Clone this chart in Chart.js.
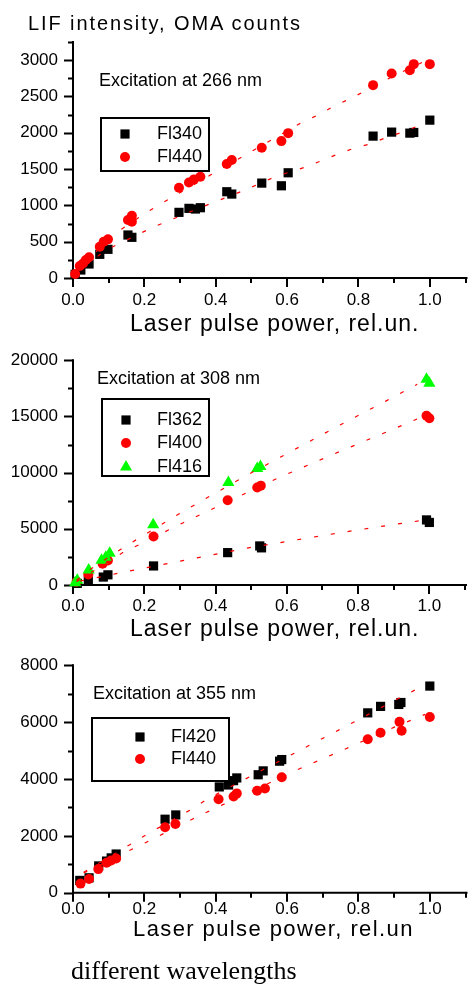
<!DOCTYPE html>
<html>
<head>
<meta charset="utf-8">
<script src="https://cdn.jsdelivr.net/npm/chart.js@4/dist/chart.umd.min.js"></script>
<style>
  body { margin:0; background:#fff; width:472px; height:984px; position:relative; overflow:hidden;
         font-family: Arial, "Liberation Sans", sans-serif; }
  .wrap { position:absolute; left:0; width:472px; }
  .txt { position:absolute; white-space:nowrap; color:#000; line-height:1; }
</style>
</head>
<body>
<div class="wrap" style="top:0;height:335px"><canvas id="c1"></canvas></div>
<div class="wrap" style="top:335px;height:305px"><canvas id="c2"></canvas></div>
<div class="wrap" style="top:640px;height:300px"><canvas id="c3"></canvas></div>

<div class="txt" style="left:28px;top:13px;font-size:20px;letter-spacing:1.9px">LIF intensity, OMA counts</div>
<div class="txt" style="left:130px;top:312px;font-size:23px;letter-spacing:1px">Laser pulse power, rel.un.</div>
<div class="txt" style="left:130px;top:617px;font-size:23px;letter-spacing:1px">Laser pulse power, rel.un.</div>
<div class="txt" style="left:133px;top:918px;font-size:22px;letter-spacing:1.4px">Laser pulse power, rel.un</div>
<div class="txt" style="left:71px;top:958px;font-size:26px;font-family:'Liberation Serif','Times New Roman',serif">different wavelengths</div>

<script>
// tick labels
const xTicks = [0, 0.2, 0.4, 0.6, 0.8, 1.0];
const p1YTicks = [0, 500, 1000, 1500, 2000, 2500, 3000];
const p2YTicks = [0, 5000, 10000, 15000, 20000];
const p3YTicks = [0, 2000, 4000, 6000, 8000];

// panel 1 - excitation 266 nm
const p1Fl340X = [0.006, 0.022, 0.045, 0.075, 0.098, 0.154, 0.165, 0.297, 0.325, 0.343, 0.357, 0.431, 0.445, 0.529, 0.584, 0.603, 0.841, 0.893, 0.944, 0.955, 1.0];
const p1Fl340Y = [50, 110, 193, 326, 395, 592, 560, 904, 959, 950, 968, 1188, 1156, 1307, 1270, 1449, 1954, 2009, 1995, 2004, 2174];
const p1Fl440X = [0.006, 0.019, 0.028, 0.036, 0.045, 0.075, 0.086, 0.098, 0.154, 0.165, 0.165, 0.297, 0.325, 0.339, 0.357, 0.431, 0.445, 0.529, 0.584, 0.603, 0.841, 0.893, 0.944, 0.955, 1.0];
const p1Fl440Y = [55, 165, 200, 248, 285, 431, 500, 532, 798, 857, 775, 1243, 1316, 1358, 1394, 1569, 1625, 1793, 1885, 1995, 2656, 2817, 2862, 2945, 2945];
const p1Fit340X = [0.03, 0.093, 0.135, 0.221, 0.265, 0.394, 0.482, 0.566, 0.654, 0.742, 0.786, 0.831, 0.876, 0.918, 0.962];
const p1Fit340Y = [160, 385, 486, 692, 784, 1041, 1211, 1394, 1532, 1706, 1785, 1844, 1930, 2000, 2083];
const p1Fit440X = [0.03, 0.121, 0.206, 0.253, 0.385, 0.64, 0.686, 0.728, 0.774, 0.818, 0.862, 0.907, 0.992];
const p1Fit440Y = [200, 624, 904, 1041, 1417, 2138, 2243, 2358, 2463, 2573, 2688, 2803, 3000];

// panel 2 - excitation 308 nm
const p2Fl362X = [0.012, 0.043, 0.085, 0.098, 0.226, 0.434, 0.524, 0.529, 0.992, 1.0];
const p2Fl362Y = [141, 424, 706, 904, 1695, 2880, 3475, 3305, 5790, 5565];
const p2Fl400X = [0.010, 0.043, 0.083, 0.098, 0.226, 0.434, 0.517, 0.527, 0.992, 1.0];
const p2Fl400Y = [282, 932, 1893, 2175, 4322, 7543, 8672, 8841, 15056, 14831];
const p2Fl416X = [0.006, 0.012, 0.044, 0.080, 0.092, 0.103, 0.225, 0.436, 0.517, 0.526, 0.992, 1.0];
const p2Fl416Y = [200, 424, 1330, 2204, 2458, 2822, 5365, 9125, 10365, 10535, 18300, 17950];
const p2Fit362X = [0.02, 0.14, 0.314, 0.492, 0.751, 0.927, 0.97];
const p2Fit362Y = [350, 1130, 2203, 3305, 4661, 5509, 5700];
const p2Fit400X = [0.01, 0.14, 0.311, 0.575, 0.746, 0.922, 0.966];
const p2Fit400Y = [300, 2882, 5566, 9520, 11840, 14180, 14772];
const p2Fit416X = [0.01, 0.052, 0.14, 0.311, 0.482, 0.746, 0.879, 0.966];
const p2Fit416Y = [420, 1467, 3305, 6585, 9662, 14180, 16382, 17857];

// panel 3 - excitation 355 nm
const p3Fl420X = [0.019, 0.045, 0.072, 0.094, 0.107, 0.121, 0.258, 0.288, 0.410, 0.436, 0.450, 0.459, 0.519, 0.533, 0.579, 0.585, 0.826, 0.862, 0.913, 0.919, 1.0];
const p3Fl420Y = [432, 524, 942, 1112, 1224, 1360, 2584, 2734, 3720, 3788, 3940, 4036, 4148, 4284, 4625, 4682, 6324, 6552, 6620, 6688, 7266];
const p3Fl440X = [0.021, 0.045, 0.071, 0.094, 0.107, 0.121, 0.258, 0.287, 0.408, 0.450, 0.459, 0.516, 0.538, 0.585, 0.826, 0.862, 0.915, 0.921, 1.0];
const p3Fl440Y = [320, 480, 830, 1054, 1136, 1204, 2302, 2414, 3288, 3380, 3492, 3584, 3662, 4060, 5396, 5624, 6008, 5692, 6178];
const p3Fit420X = [0.03, 0.158, 0.203, 0.334, 0.376, 0.638, 0.768, 0.899, 0.987];
const p3Fit420Y = [720, 1680, 2020, 2948, 3288, 5022, 5872, 6746, 7310];
const p3Fit440X = [0.03, 0.158, 0.203, 0.334, 0.376, 0.638, 0.768, 0.899, 0.987];
const p3Fit440Y = [690, 1486, 1758, 2584, 2836, 4376, 5080, 5814, 6270];

const FONT = 'Arial, "Liberation Sans", sans-serif';
const pts = (xs, ys) => xs.map((x, i) => ({x: x, y: ys[i]}));

function drawMark(ctx, style, color, x, y, r) {
  ctx.fillStyle = color;
  ctx.beginPath();
  if (style === 'rect') {
    const s = r * Math.SQRT1_2;
    ctx.rect(x - s, y - s, 2 * s, 2 * s);
  } else if (style === 'triangle') {
    ctx.moveTo(x, y - r);
    ctx.lineTo(x + r * 0.866, y + r * 0.5);
    ctx.lineTo(x - r * 0.866, y + r * 0.5);
    ctx.closePath();
  } else {
    ctx.arc(x, y, r, 0, Math.PI * 2);
  }
  ctx.fill();
}

// old style axes: thick lines, outward major / minor ticks
const axesPlugin = {
  id: 'oldAxes',
  beforeDatasetsDraw(chart, args, o) {
    const {ctx, chartArea: a, scales: {x, y}} = chart;
    ctx.save();
    ctx.strokeStyle = '#000';
    ctx.lineWidth = 2;
    ctx.beginPath();
    ctx.moveTo(a.left, y.getPixelForValue(y.max) - 1);
    ctx.lineTo(a.left, a.bottom + 1);
    ctx.moveTo(a.left - 1, a.bottom);
    ctx.lineTo(a.right + 2, a.bottom);
    ctx.stroke();
    ctx.beginPath();
    const ny = Math.round((y.max - y.min) / o.yMinor);
    for (let i = 0; i <= ny; i++) {
      const v = y.min + i * o.yMinor;
      const len = (Math.abs(v / o.yMajor - Math.round(v / o.yMajor)) < 1e-6) ? 9 : 5;
      const py = Math.round(y.getPixelForValue(v)) + 0.5;
      ctx.moveTo(a.left - len, py);
      ctx.lineTo(a.left, py);
    }
    for (let i = 0; i <= 11; i++) {
      const len = i % 2 === 0 ? 9 : 5;
      const px = Math.round(x.getPixelForValue(i / 10));
      ctx.moveTo(px, a.bottom);
      ctx.lineTo(px, a.bottom + len);
    }
    ctx.stroke();
    ctx.restore();
  }
};

// in-plot annotation and framed legend
const notesPlugin = {
  id: 'boxNotes',
  afterDraw(chart, args, o) {
    const ctx = chart.ctx;
    ctx.save();
    ctx.font = '18px ' + FONT;
    ctx.textBaseline = 'middle';
    ctx.textAlign = 'left';
    ctx.fillStyle = '#000';
    ctx.fillText(o.note.text, o.note.x, o.note.y);
    ctx.fillStyle = '#fff';
    ctx.fillRect(o.box.x, o.box.y, o.box.w, o.box.h);
    ctx.lineWidth = 2;
    ctx.strokeStyle = '#000';
    ctx.strokeRect(o.box.x, o.box.y, o.box.w, o.box.h);
    o.items.forEach(it => {
      drawMark(ctx, it.style, it.color, o.symX, it.y, it.r);
      ctx.fillStyle = '#000';
      ctx.fillText(it.label, o.textX, it.y);
    });
    ctx.restore();
  }
};

function makePanel(id, p) {
  const datasets = [];
  p.fits.forEach(f => datasets.push({
    data: pts(f[0], f[1]), showLine: true, pointRadius: 0, borderColor: '#ff0000',
    borderWidth: 1.2, borderDash: [4, 13], fill: false, clip: false
  }));
  p.series.slice().reverse().forEach(s => datasets.push({
    data: pts(s.x, s.y), pointStyle: s.style, pointRadius: s.r, pointBackgroundColor: s.color,
    pointBorderWidth: 0, borderColor: s.color, showLine: false, clip: false
  }));
  return new Chart(document.getElementById(id), {
    type: 'scatter',
    data: { datasets: datasets },
    options: {
      responsive: true, maintainAspectRatio: false, animation: false,
      layout: { padding: { top: p.padTop, right: 3, left: 0, bottom: 0 } },
      plugins: {
        legend: { display: false }, tooltip: { enabled: false },
        oldAxes: { yMinor: p.yMinor, yMajor: p.yMajor },
        boxNotes: {
          note: p.note, box: p.box, symX: p.symX, textX: p.textX,
          items: p.series.map(s => ({ style: s.style, color: s.color, r: s.r, label: s.label, y: s.ly }))
        }
      },
      scales: {
        x: {
          type: 'linear', min: 0, max: 1.1,
          grid: { display: false, drawTicks: false }, border: { display: false },
          afterBuildTicks: s => { s.ticks = xTicks.map(v => ({ value: v })); },
          afterFit: s => { s.height = p.xH; },
          ticks: { padding: p.xPad, color: '#000', font: { family: FONT, size: 17 }, maxRotation: 0,
                   callback: v => Number(v).toFixed(1) }
        },
        y: {
          type: 'linear', min: 0, max: p.yMax,
          grid: { display: false, drawTicks: false }, border: { display: false },
          afterBuildTicks: s => { s.ticks = p.yTicks.map(v => ({ value: v })); },
          afterFit: s => { s.width = 73; },
          ticks: { padding: 15, color: '#000', font: { family: FONT, size: 17 },
                   callback: v => String(v) }
        }
      }
    },
    plugins: [axesPlugin, notesPlugin]
  });
}

makePanel('c1', {
  padTop: 42, xH: 57, xPad: 12, yMax: 3250, yMinor: 250, yMajor: 500, yTicks: p1YTicks,
  fits: [[p1Fit340X, p1Fit340Y], [p1Fit440X, p1Fit440Y]],
  series: [
    { label: 'Fl340', x: p1Fl340X, y: p1Fl340Y, style: 'rect', color: '#000000', r: 6.5, ly: 134 },
    { label: 'Fl440', x: p1Fl440X, y: p1Fl440Y, style: 'circle', color: '#ff0000', r: 5, ly: 157 }
  ],
  note: { text: 'Excitation at 266 nm', x: 99, y: 81 },
  box: { x: 101, y: 118, w: 108, h: 53 }, symX: 125, textX: 157
});

makePanel('c2', {
  padTop: 14, xH: 55, xPad: 11, yMax: 20000, yMinor: 2500, yMajor: 5000, yTicks: p2YTicks,
  fits: [[p2Fit362X, p2Fit362Y], [p2Fit400X, p2Fit400Y], [p2Fit416X, p2Fit416Y]],
  series: [
    { label: 'Fl362', x: p2Fl362X, y: p2Fl362Y, style: 'rect', color: '#000000', r: 6.5, ly: 85 },
    { label: 'Fl400', x: p2Fl400X, y: p2Fl400Y, style: 'circle', color: '#ff0000', r: 5, ly: 108 },
    { label: 'Fl416', x: p2Fl416X, y: p2Fl416Y, style: 'triangle', color: '#00ff00', r: 7, ly: 132 }
  ],
  note: { text: 'Excitation at 308 nm', x: 97, y: 44 },
  box: { x: 102, y: 64, w: 107, h: 77 }, symX: 126, textX: 157
});

makePanel('c3', {
  padTop: 17.3, xH: 47.3, xPad: 6, yMax: 8000, yMinor: 1000, yMajor: 2000, yTicks: p3YTicks,
  fits: [[p3Fit420X, p3Fit420Y], [p3Fit440X, p3Fit440Y]],
  series: [
    { label: 'Fl420', x: p3Fl420X, y: p3Fl420Y, style: 'rect', color: '#000000', r: 6.5, ly: 97 },
    { label: 'Fl440', x: p3Fl440X, y: p3Fl440Y, style: 'circle', color: '#ff0000', r: 5, ly: 119 }
  ],
  note: { text: 'Excitation at 355 nm', x: 93, y: 54 },
  box: { x: 92, y: 78, w: 137, h: 63 }, symX: 140, textX: 171
});
</script>
</body>
</html>
